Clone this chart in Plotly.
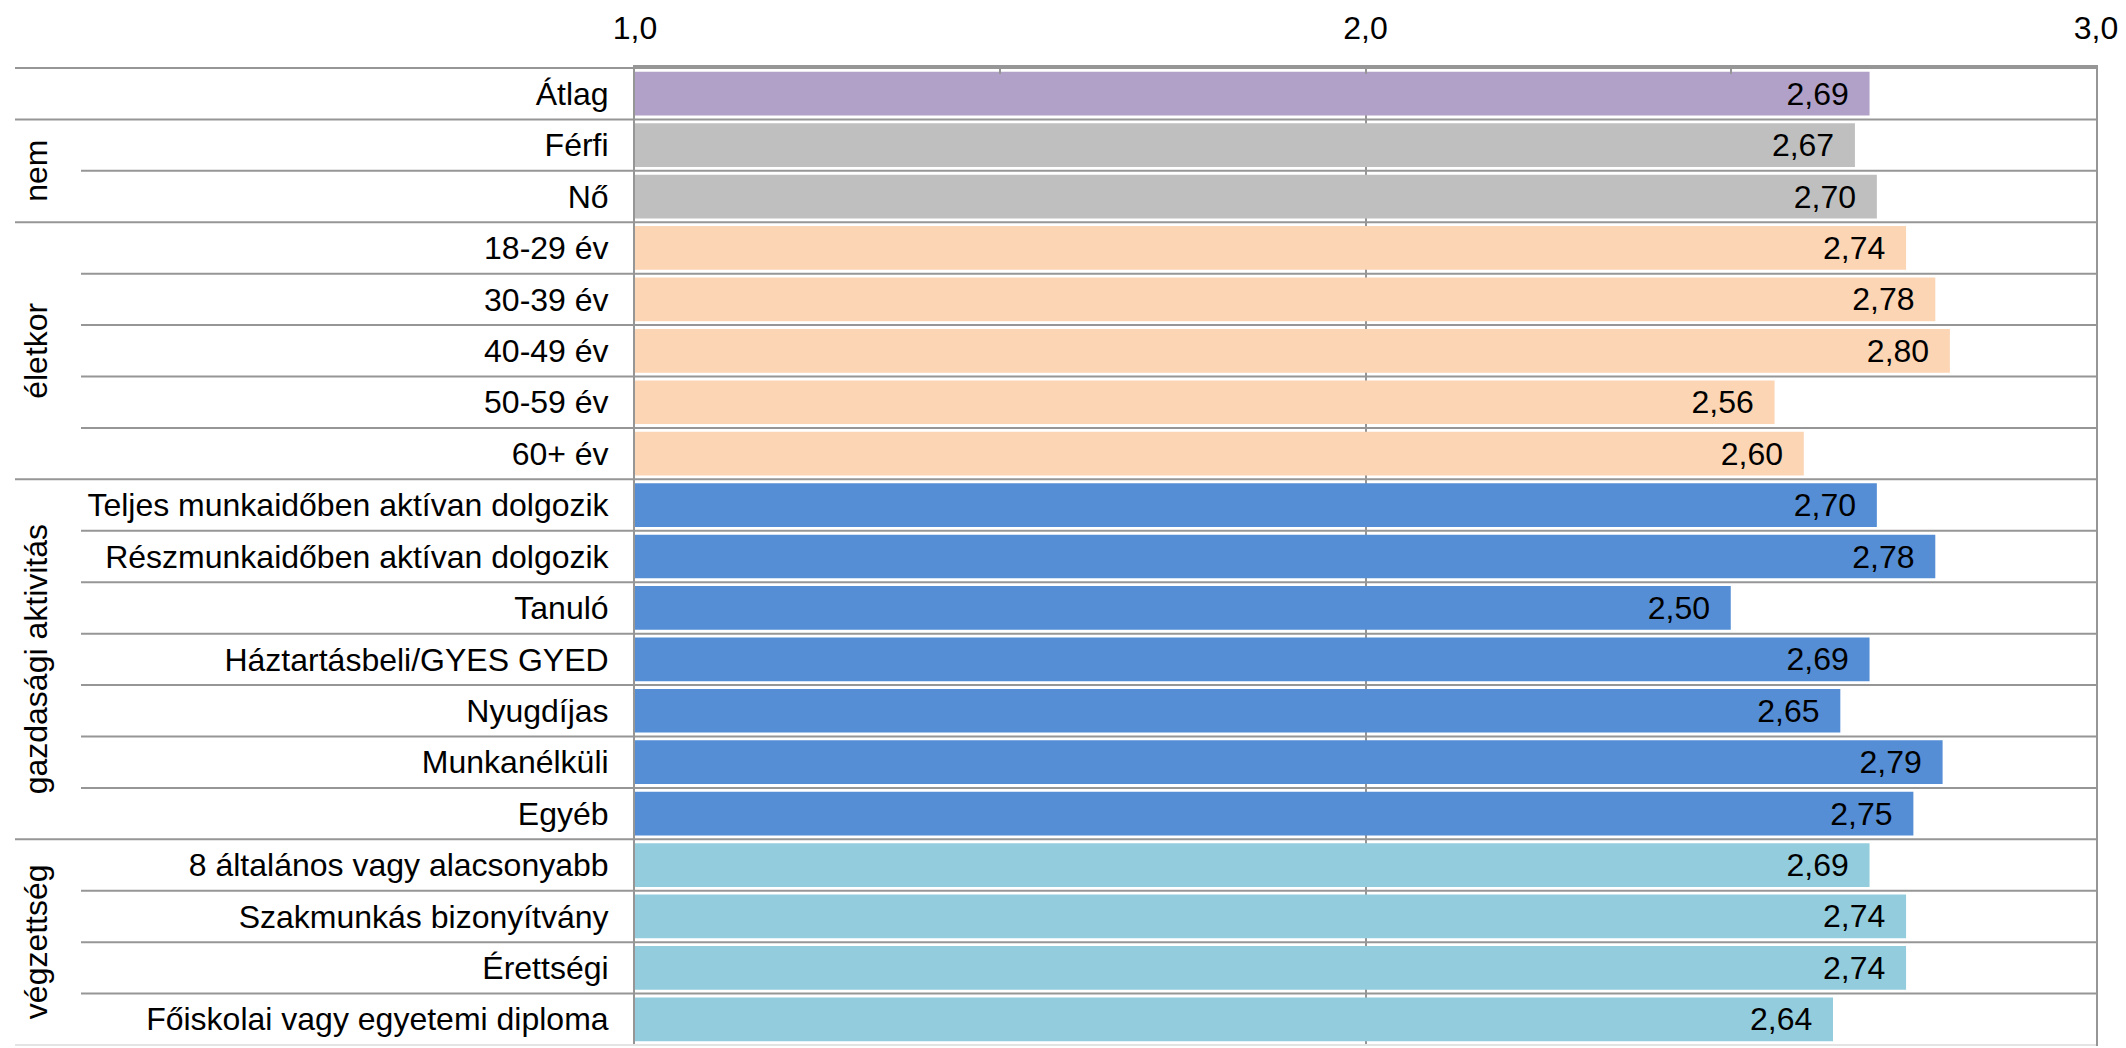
import plotly.graph_objects as go

categories = ["Átlag", "Férfi", "Nő", "18-29 év", "30-39 év", "40-49 év", "50-59 év", "60+ év",
              "Teljes munkaidőben aktívan dolgozik", "Részmunkaidőben aktívan dolgozik", "Tanuló",
              "Háztartásbeli/GYES GYED", "Nyugdíjas", "Munkanélküli", "Egyéb",
              "8 általános vagy alacsonyabb", "Szakmunkás bizonyítvány", "Érettségi",
              "Főiskolai vagy egyetemi diploma"]
values = [2.69, 2.67, 2.70, 2.74, 2.78, 2.80, 2.56, 2.60,
          2.70, 2.78, 2.50, 2.69, 2.65, 2.79, 2.75,
          2.69, 2.74, 2.74, 2.64]
groups = ["", "nem", "nem", "életkor", "életkor", "életkor", "életkor", "életkor",
          "gazdasági aktivitás", "gazdasági aktivitás", "gazdasági aktivitás", "gazdasági aktivitás",
          "gazdasági aktivitás", "gazdasági aktivitás", "gazdasági aktivitás",
          "végzettség", "végzettség", "végzettség", "végzettség"]
group_colors = {"": "#B1A0C7", "nem": "#BFBFBF", "életkor": "#FCD5B5",
                "gazdasági aktivitás": "#558ED5", "végzettség": "#93CDDD"}
tick_vals = [1, 2, 3]
tick_text = ["1,0", "2,0", "3,0"]

FONT = "Liberation Sans, Arial, sans-serif"
FS = 32
LINE = "#969696"

W, H = 2126, 1048
ML, MR, MT, MB = 635, 30, 67, 2
PW = W - ML - MR

def px_to_paper(px):
    return (px - ML) / PW

fig = go.Figure(go.Bar(
    x=values, y=categories, orientation="h",
    marker=dict(color=[group_colors[g] for g in groups], line=dict(width=0)),
    text=[f"{v:.2f}".replace(".", ",") + "\u00a0\u00a0" for v in values],
    textposition="inside", insidetextanchor="end", textangle=0,
    textfont=dict(color="black", size=FS, family=FONT),
    cliponaxis=True, hoverinfo="skip",
))

shapes = []
n = len(categories)
long_x0 = px_to_paper(15)
short_x0 = px_to_paper(81)
shapes.append(dict(type="line", xref="paper", yref="y", x0=long_x0, x1=1, y0=-0.5, y1=-0.5,
                   line=dict(color=LINE, width=2), layer="above"))
for i in range(n - 1):
    x0 = long_x0 if groups[i] != groups[i + 1] else short_x0
    shapes.append(dict(type="line", xref="paper", yref="y", x0=x0, x1=1, y0=i + 0.5, y1=i + 0.5,
                       line=dict(color=LINE, width=2), layer="above"))
shapes.append(dict(type="line", xref="paper", yref="y", x0=long_x0, x1=1, y0=n - 0.5, y1=n - 0.5,
                   line=dict(color="#E4E4E4", width=2), layer="above"))

annotations = []
seen = []
for g in groups:
    if g and g not in seen:
        seen.append(g)
for g in seen:
    idx = [i for i, gg in enumerate(groups) if gg == g]
    annotations.append(dict(text=g, xref="paper", yref="y", x=px_to_paper(36),
                            y=(idx[0] + idx[-1]) / 2, textangle=-90, showarrow=False,
                            xanchor="center", yanchor="middle",
                            font=dict(size=FS, color="black", family=FONT)))

fig.update_layout(
    width=W, height=H, margin=dict(l=ML, r=MR, t=MT, b=MB, autoexpand=False),
    paper_bgcolor="white", plot_bgcolor="white",
    bargap=0.15, showlegend=False,
    font=dict(family=FONT, size=FS, color="black"),
    shapes=shapes, annotations=annotations,
    xaxis=dict(range=[1, 3], side="top", tickvals=tick_vals, ticktext=tick_text,
               showgrid=True, gridcolor=LINE, gridwidth=2, automargin=False,
               ticks="inside", ticklen=7, tickcolor=LINE, tickwidth=2,
               minor=dict(tickvals=[1.5, 2.5], ticks="inside", ticklen=7, tickcolor=LINE,
                          tickwidth=2, showgrid=False),
               showline=True, linecolor=LINE, linewidth=2, zeroline=False,
               tickfont=dict(size=FS, color="black", family=FONT), ticklabelstandoff=13),
    yaxis=dict(type="category", autorange="reversed", showgrid=False, zeroline=False,
               showline=True, linecolor=LINE, linewidth=2, mirror=True, ticks="",
               automargin=False,
               tickfont=dict(size=FS, color="black", family=FONT), ticklabelstandoff=18),
)

fig.write_html("out.html", config={"displayModeBar": False},
               post_script="document.body.style.margin='0';document.body.style.overflow='hidden';")
